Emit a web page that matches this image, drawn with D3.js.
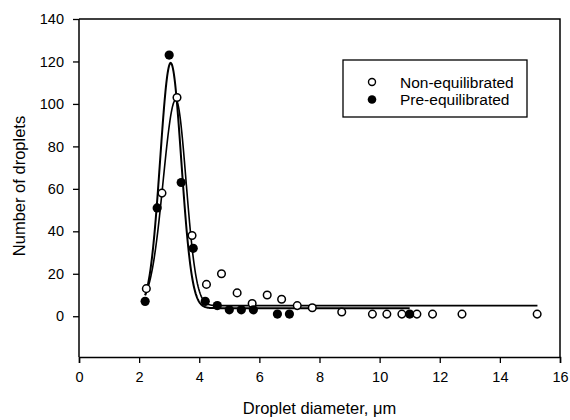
<!DOCTYPE html>
<html>
<head>
<meta charset="utf-8">
<script src="https://cdn.jsdelivr.net/npm/d3@7"></script>
<style>
  html, body { margin: 0; padding: 0; background: #fff; }
  svg { display: block; font-family: "Liberation Sans", Arial, sans-serif; }
</style>
</head>
<body>
<svg id="chart" width="570" height="420"></svg>
<script>
// ---- data ----
const nonEqX = [2.24, 2.76, 3.26, 3.76, 4.24, 4.74, 5.26, 5.76, 6.26, 6.74, 7.26, 7.76, 8.74, 9.76, 10.24, 10.74, 11.24, 11.76, 12.74, 15.24];
const nonEqY = [13, 58, 103, 38, 15, 20, 11, 6, 10, 8, 5, 4, 2, 1, 1, 1, 1, 1, 1, 1];
const preEqX = [2.2, 2.6, 3.0, 3.4, 3.8, 4.2, 4.6, 5.0, 5.4, 5.8, 6.6, 7.0, 11.0];
const preEqY = [7, 51, 123, 63, 32, 7, 5, 3, 3, 3, 1, 1, 1];
// fitted peak curves: [baseline, amplitude, centre, sigmaLeft, sigmaRight, xStart, xEnd]
const nonEqFit = [5.0, 97, 3.22, 0.42, 0.34, 2.2, 15.25];
const preEqFit = [3.8, 115.5, 3.05, 0.35, 0.35, 2.2, 11.0];
const xTicks = [0, 2, 4, 6, 8, 10, 12, 14, 16];
const yTicks = [0, 20, 40, 60, 80, 100, 120, 140];
const legendLabels = ["Non-equilibrated", "Pre-equilibrated"];

// ---- layout ----
const svg = d3.select("#chart");
const L = 79, R = 560, T = 19, B = 357;
const x = d3.scaleLinear().domain([0, 16]).range([L, R]);
const y = d3.scaleLinear().domain([-19.2, 140]).range([B, T]);

// frame (top & right)
svg.append("path")
  .attr("d", `M${L},${T}H${R}V${B}`)
  .attr("fill", "none").attr("stroke", "#000").attr("stroke-width", 1.5);

// x axis
const xMinor = d3.range(0, 16.01, 0.5);
const gx = svg.append("g").attr("transform", `translate(0,${B})`);
gx.call(d3.axisBottom(x).tickValues(xMinor).tickSize(5).tickFormat(""))
  .call(g => g.select(".domain").remove());
gx.call(d3.axisBottom(x).tickValues(xTicks).tickSize(6).tickPadding(9).tickFormat(d3.format("d")));
gx.selectAll("line").attr("stroke-width", 1.3);
gx.selectAll(".domain").attr("stroke-width", 1.5);
gx.selectAll("text").attr("font-size", 14.5).attr("font-family", "Liberation Sans, Arial, sans-serif").attr("fill", "#000");

// y axis
const yMinor = d3.range(-15, 140.01, 5);
const gy = svg.append("g").attr("transform", `translate(${L},0)`);
gy.call(d3.axisLeft(y).tickValues(yMinor).tickSize(5).tickFormat(""))
  .call(g => g.select(".domain").remove());
gy.call(d3.axisLeft(y).tickValues(yTicks).tickSize(6).tickPadding(9).tickFormat(d3.format("d")));
gy.selectAll(".domain").attr("d", `M0,${B}V${T}`).attr("stroke-width", 1.5);
gy.selectAll("line").attr("stroke-width", 1.3);
gy.selectAll("text").attr("font-size", 14.5).attr("font-family", "Liberation Sans, Arial, sans-serif").attr("fill", "#000");

// axis titles
svg.append("text").attr("x", (L + R) / 2).attr("y", 414)
  .attr("text-anchor", "middle").attr("font-size", 16.5)
  .text("Droplet diameter, \u03bcm");
svg.append("text").attr("transform", `translate(25,${186}) rotate(-90)`)
  .attr("text-anchor", "middle").attr("font-size", 16.5)
  .text("Number of droplets");

// fitted curves
function fitPoints(p) {
  const [b, a, c, sl, sr, x0, x1] = p;
  const pts = [];
  const n = 600;
  for (let i = 0; i <= n; i++) {
    const xv = x0 + (x1 - x0) * i / n;
    const s = xv < c ? sl : sr;
    pts.push([xv, b + a * Math.exp(-((xv - c) ** 2) / (2 * s * s))]);
  }
  return pts;
}
const line = d3.line().x(d => x(d[0])).y(d => y(d[1]));
svg.append("path").attr("d", line(fitPoints(nonEqFit)))
  .attr("fill", "none").attr("stroke", "#000").attr("stroke-width", 1.6);
svg.append("path").attr("d", line(fitPoints(preEqFit)))
  .attr("fill", "none").attr("stroke", "#000").attr("stroke-width", 2);

// points
svg.append("g").selectAll("circle").data(nonEqX.map((v, i) => [v, nonEqY[i]])).join("circle")
  .attr("cx", d => x(d[0])).attr("cy", d => y(d[1])).attr("r", 3.8)
  .attr("fill", "#fff").attr("stroke", "#000").attr("stroke-width", 1.5);
svg.append("g").selectAll("circle").data(preEqX.map((v, i) => [v, preEqY[i]])).join("circle")
  .attr("cx", d => x(d[0])).attr("cy", d => y(d[1])).attr("r", 4.6)
  .attr("fill", "#000");

// legend
const lg = svg.append("g");
lg.append("rect").attr("x", 343).attr("y", 60).attr("width", 184).attr("height", 57)
  .attr("fill", "#fff").attr("stroke", "#000").attr("stroke-width", 1.3);
legendLabels.forEach((lab, i) => {
  const cy = 82 + i * 17.5;
  if (i === 0) {
    lg.append("circle").attr("cx", 372).attr("cy", cy).attr("r", 3.5)
      .attr("fill", "#fff").attr("stroke", "#000").attr("stroke-width", 1.4);
  } else {
    lg.append("circle").attr("cx", 372).attr("cy", cy).attr("r", 4.3).attr("fill", "#000");
  }
  lg.append("text").attr("x", 400).attr("y", cy + 5.5).attr("font-size", 15.5).text(lab);
});
</script>
</body>
</html>
